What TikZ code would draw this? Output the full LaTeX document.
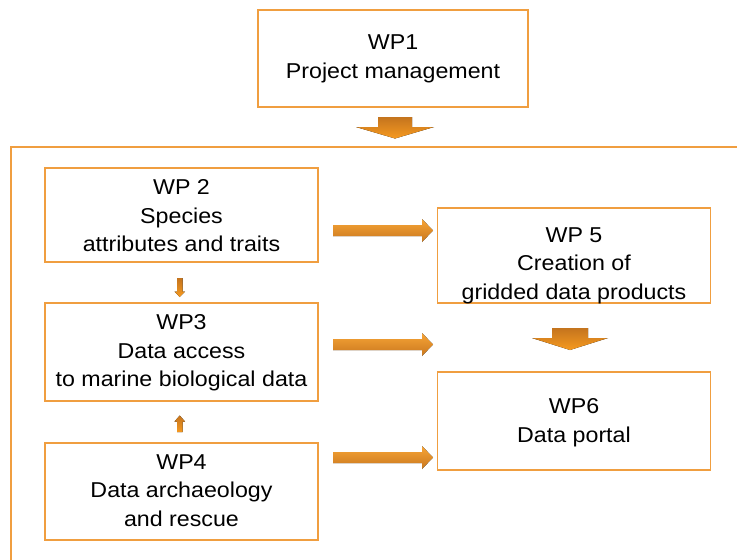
\documentclass[tikz,border=0pt]{standalone}
\usepackage{fontspec}
\setmainfont[FakeStretch=1.08]{Liberation Sans}
\definecolor{bord}{RGB}{240,158,64}
\definecolor{arrdark}{RGB}{196,116,30}
\definecolor{arrlight}{RGB}{246,154,32}
\tikzset{
  wpbox/.style={draw=bord, line width=1.4pt, fill=white, minimum width=273pt, inner sep=0pt},
  wptext/.style={align=center, font=\fontsize{21.5}{28.5}\selectfont, inner sep=0pt},
  downarr/.style={top color=arrdark, bottom color=arrlight, draw=none},
  rightarr/.style={top color=arrlight!90!white, bottom color=arrdark!90!arrlight, draw=none},
}
\begin{document}
\begin{tikzpicture}[x=1pt,y=-1pt]
\useasboundingbox (0,0) rectangle (737,560);
% outer frame
\coordinate (fbl) at (11,570);
\coordinate (ftl) at (11,147);
\coordinate (ftr) at (750,147);
\draw[bord, line width=1.4pt] (fbl) -- (ftl) -- (ftr);
% boxes
\node[wpbox, minimum width=270pt, minimum height=97pt] (wp1) at (393,58.5) {};
\node[wptext] (wp1t) at (393,59) {\fontsize{21.5}{26}\selectfont WP1\\Project management};
\node[wpbox, minimum height=94pt] (wp2) at (181.5,215) {};
\node[wptext] (wp2t) at (181.5,216) {WP 2\\Species\\attributes and traits};
\node[wpbox, minimum height=98pt] (wp3) at (181.5,352) {};
\node[wptext] (wp3t) at (181.5,353) {WP3\\Data access\\to marine biological data};
\node[wpbox, minimum height=97pt] (wp4) at (181.5,491.5) {};
\node[wptext] (wp4t) at (181.5,490.5) {WP4\\Data archaeology\\and rescue};
\node[wpbox, minimum height=95pt] (wp5) at (574,255.5) {};
\node[wptext] (wp5t) at (574,265.5) {WP 5\\Creation of\\gridded data products};
\node[wpbox, minimum height=98pt] (wp6) at (574,421) {};
\node[wptext] (wp6t) at (574,422.5) {WP6\\Data portal};
% big down arrows
\fill[downarr] (378,117) -- (412,117) -- (412,127) -- (434,127) -- (395,138.5) -- (356,127) -- (378,127) -- cycle;
\fill[downarr] (552,328) -- (588,328) -- (588,338) -- (608,338) -- (570,350) -- (532,338) -- (552,338) -- cycle;
% right arrows
\foreach \yy in {230.5,344.5,457.5}{
  \fill[rightarr] (333,\yy-5.5) -- (422,\yy-5.5) -- (422,\yy-11.5) -- (433,\yy) -- (422,\yy+11.5) -- (422,\yy+5.5) -- (333,\yy+5.5) -- cycle;
}
% small vertical arrows
\fill[downarr] (177,278) -- (182.5,278) -- (182.5,291.5) -- (185,291.5) -- (179.7,297) -- (174.5,291.5) -- (177,291.5) -- cycle;
\fill[downarr] (177,432) -- (182.5,432) -- (182.5,421.5) -- (185,421.5) -- (179.7,415.5) -- (174.5,421.5) -- (177,421.5) -- cycle;
\end{tikzpicture}
\end{document}
